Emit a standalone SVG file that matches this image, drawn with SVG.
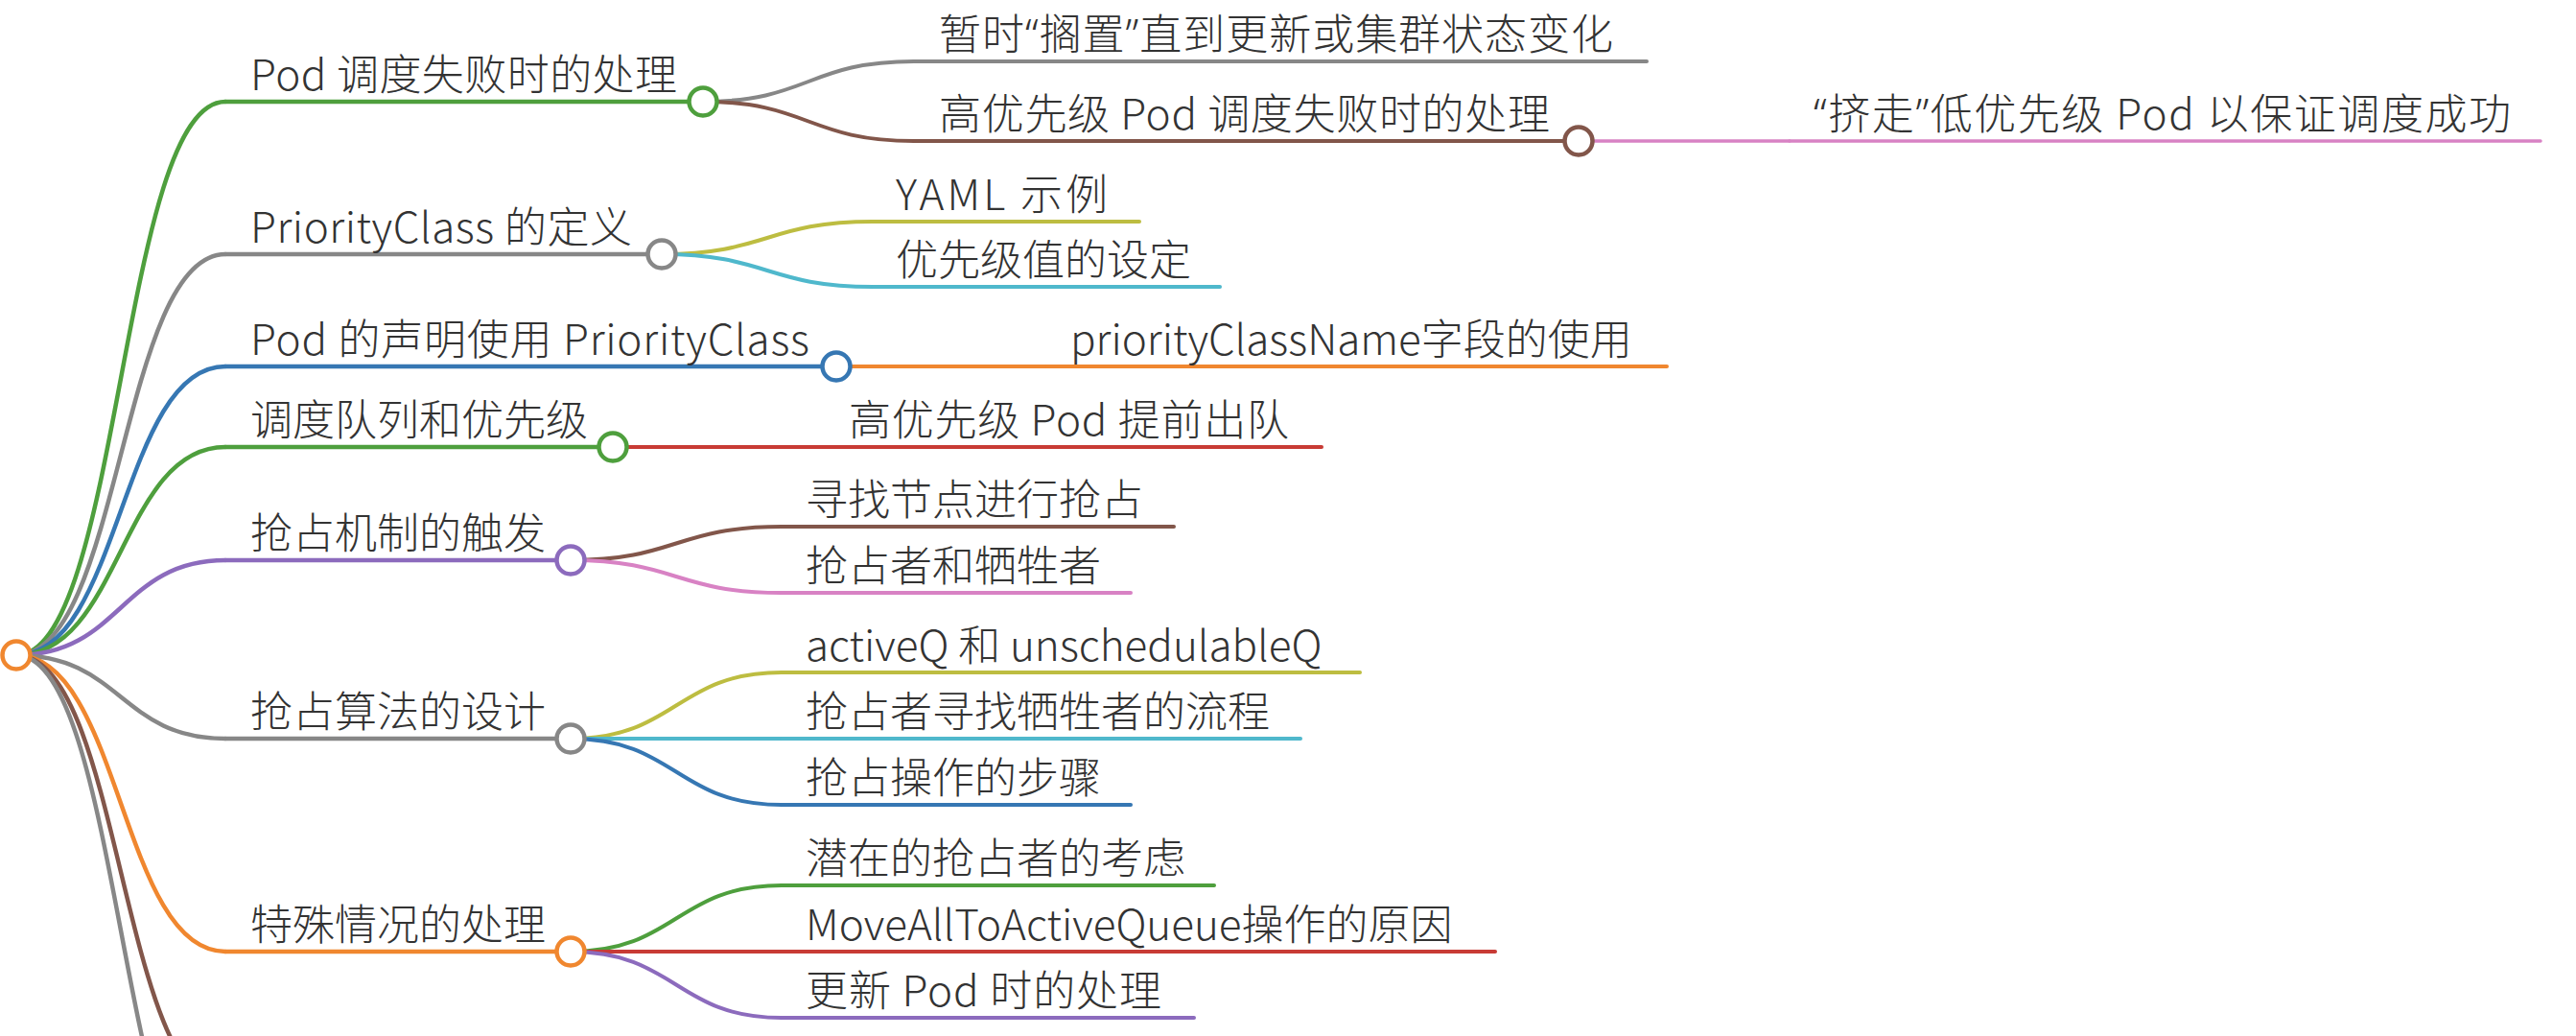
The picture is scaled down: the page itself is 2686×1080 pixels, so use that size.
<svg xmlns="http://www.w3.org/2000/svg" width="2686" height="1080" viewBox="0 0 2686 1080">
<style>
  .t { font-family: "Noto Sans CJK SC", "Noto Sans", sans-serif; font-size: 44px; fill: #333; font-weight: 300; }
  .q { font-family: "Noto Sans", "Liberation Sans", sans-serif; }
  .l1 { fill: none; stroke-width: 4.5; stroke-linecap: round; }
  .l2 { fill: none; stroke-width: 4; stroke-linecap: round; }
  .l3 { fill: none; stroke-width: 3.5; stroke-linecap: round; }
  .dot { fill: #fff; stroke-width: 4.5; }
  .green { stroke: #4e9f3d; }
  .gray { stroke: #878787; }
  .blue { stroke: #3677b3; }
  .purple { stroke: #8c6bbd; }
  .orange { stroke: #f0872f; }
  .brown { stroke: #82564a; }
  .red { stroke: #c83b35; }
  .pink { stroke: #d882c4; }
  .olive { stroke: #bdbd41; }
  .cyan { stroke: #4fb8cc; }
</style>
<rect width="2686" height="1080" fill="#fff"/>
<g id="connectors">
  <path class="l1 green" d="M17 683 C126 683 126 106 235 106"/>
  <path class="l1 gray" d="M17 683 C126 683 126 265 235 265"/>
  <path class="l1 blue" d="M17 683 C126 683 126 382 235 382"/>
  <path class="l1 green" d="M17 683 C126 683 126 466 235 466"/>
  <path class="l1 purple" d="M17 683 C126 683 126 584 235 584"/>
  <path class="l1 gray" d="M17 683 C126 683 126 770 235 770"/>
  <path class="l1 orange" d="M17 683 C126 683 126 992 235 992"/>
  <path class="l1 brown" d="M17 683 C126 683 126 1135 235 1135"/>
  <path class="l1 gray" d="M17 683 C126 683 126 1257 235 1257"/>

  <path class="l2 gray" d="M733 106 C843 106 843 64 953 64"/>
  <path class="l2 brown" d="M733 106 C843 106 843 147 953 147"/>
  <path class="l3 pink" d="M1646 147 L1866 147"/>
  <path class="l2 olive" d="M690 265 C800 265 800 231 910 231"/>
  <path class="l2 cyan" d="M690 265 C800 265 800 299 910 299"/>
  <path class="l2 orange" d="M872 382 L1092 382"/>
  <path class="l2 red" d="M639 466 L859 466"/>
  <path class="l2 brown" d="M595 584 C705 584 705 549 815 549"/>
  <path class="l2 pink" d="M595 584 C705 584 705 618 815 618"/>
  <path class="l2 olive" d="M595 770 C705 770 705 701 815 701"/>
  <path class="l2 cyan" d="M595 770 L815 770"/>
  <path class="l2 blue" d="M595 770 C705 770 705 839 815 839"/>
  <path class="l2 green" d="M595 992 C705 992 705 923 815 923"/>
  <path class="l2 red" d="M595 992 L815 992"/>
  <path class="l2 purple" d="M595 992 C705 992 705 1061 815 1061"/>
</g>

<g id="root">
  <circle class="dot orange" cx="17" cy="683" r="14.5"/>
</g>

<g id="n1">
  <line class="l1 green" x1="235" y1="106" x2="733" y2="106"/>
  <text class="t" x="261" y="94" textLength="445">Pod 调度失败时的处理</text>
  <circle class="dot green" cx="733" cy="106" r="14.5"/>
</g>
<g id="n1a">
  <line class="l2 gray" x1="953" y1="64" x2="1717" y2="64"/>
  <text class="t" x="979" y="52" textLength="703">暂时<tspan class="q">“</tspan>搁置<tspan class="q">”</tspan>直到更新或集群状态变化</text>
</g>
<g id="n1b">
  <line class="l2 brown" x1="953" y1="147" x2="1646" y2="147"/>
  <text class="t" x="979" y="135" textLength="637">高优先级 Pod 调度失败时的处理</text>
  <circle class="dot brown" cx="1646" cy="147" r="14.5"/>
</g>
<g id="n1b1">
  <line class="l3 pink" x1="1866" y1="147" x2="2649" y2="147"/>
  <text class="t" x="1891" y="135" textLength="727"><tspan class="q">“</tspan>挤走<tspan class="q">”</tspan>低优先级 Pod 以保证调度成功</text>
</g>

<g id="n2">
  <line class="l1 gray" x1="235" y1="265" x2="690" y2="265"/>
  <text class="t" x="261" y="253" textLength="398">PriorityClass 的定义</text>
  <circle class="dot gray" cx="690" cy="265" r="14.5"/>
</g>
<g id="n2a">
  <line class="l2 olive" x1="910" y1="231" x2="1188" y2="231"/>
  <text class="t" x="934" y="219" textLength="221">YAML 示例</text>
</g>
<g id="n2b">
  <line class="l2 cyan" x1="910" y1="299" x2="1272" y2="299"/>
  <text class="t" x="934" y="287">优先级值的设定</text>
</g>

<g id="n3">
  <line class="l1 blue" x1="235" y1="382" x2="872" y2="382"/>
  <text class="t" x="261" y="370" textLength="583">Pod 的声明使用 PriorityClass</text>
  <circle class="dot blue" cx="872" cy="382" r="14.5"/>
</g>
<g id="n3a">
  <line class="l2 orange" x1="1092" y1="382" x2="1738" y2="382"/>
  <text class="t" x="1116" y="370">priorityClassName字段的使用</text>
</g>

<g id="n4">
  <line class="l1 green" x1="235" y1="466" x2="639" y2="466"/>
  <text class="t" x="261" y="454">调度队列和优先级</text>
  <circle class="dot green" cx="639" cy="466" r="14.5"/>
</g>
<g id="n4a">
  <line class="l2 red" x1="859" y1="466" x2="1378" y2="466"/>
  <text class="t" x="885" y="454" textLength="459">高优先级 Pod 提前出队</text>
</g>

<g id="n5">
  <line class="l1 purple" x1="235" y1="584" x2="595" y2="584"/>
  <text class="t" x="261" y="572">抢占机制的触发</text>
  <circle class="dot purple" cx="595" cy="584" r="14.5"/>
</g>
<g id="n5a">
  <line class="l2 brown" x1="815" y1="549" x2="1224" y2="549"/>
  <text class="t" x="840" y="537">寻找节点进行抢占</text>
</g>
<g id="n5b">
  <line class="l2 pink" x1="815" y1="618" x2="1179" y2="618"/>
  <text class="t" x="840" y="606">抢占者和牺牲者</text>
</g>

<g id="n6">
  <line class="l1 gray" x1="235" y1="770" x2="595" y2="770"/>
  <text class="t" x="261" y="758">抢占算法的设计</text>
  <circle class="dot gray" cx="595" cy="770" r="14.5"/>
</g>
<g id="n6a">
  <line class="l2 olive" x1="815" y1="701" x2="1418" y2="701"/>
  <text class="t" x="840" y="689">activeQ 和 unschedulableQ</text>
</g>
<g id="n6b">
  <line class="l2 cyan" x1="815" y1="770" x2="1356" y2="770"/>
  <text class="t" x="840" y="758">抢占者寻找牺牲者的流程</text>
</g>
<g id="n6c">
  <line class="l2 blue" x1="815" y1="839" x2="1179" y2="839"/>
  <text class="t" x="840" y="827">抢占操作的步骤</text>
</g>

<g id="n7">
  <line class="l1 orange" x1="235" y1="992" x2="595" y2="992"/>
  <text class="t" x="261" y="980">特殊情况的处理</text>
  <circle class="dot orange" cx="595" cy="992" r="14.5"/>
</g>
<g id="n7a">
  <line class="l2 green" x1="815" y1="923" x2="1266" y2="923"/>
  <text class="t" x="840" y="911">潜在的抢占者的考虑</text>
</g>
<g id="n7b">
  <line class="l2 red" x1="815" y1="992" x2="1559" y2="992"/>
  <text class="t" x="840" y="980">MoveAllToActiveQueue操作的原因</text>
</g>
<g id="n7c">
  <line class="l2 purple" x1="815" y1="1061" x2="1245" y2="1061"/>
  <text class="t" x="840" y="1049" textLength="371">更新 Pod 时的处理</text>
</g>
</svg>
